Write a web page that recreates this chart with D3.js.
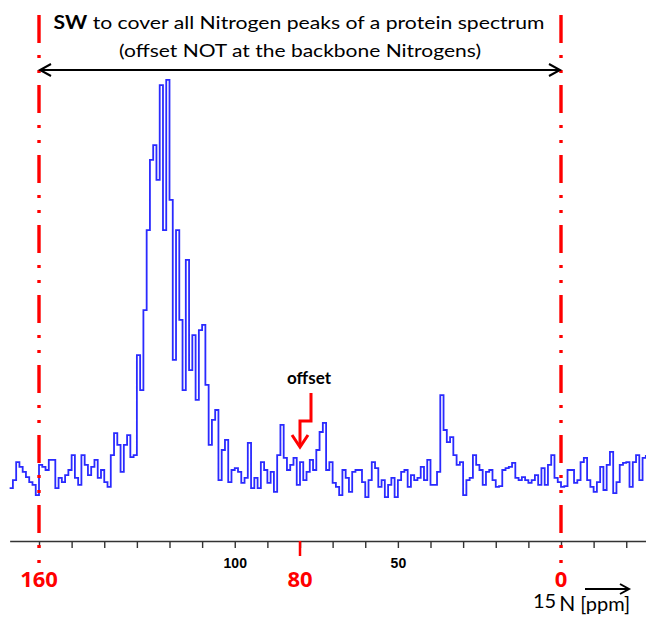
<!DOCTYPE html>
<html>
<head>
<meta charset="utf-8">
<script src="https://cdn.jsdelivr.net/npm/d3@7/dist/d3.min.js"></script>
<style>
  html, body { margin: 0; padding: 0; background: #ffffff; }
  svg { display: block; }
</style>
</head>
<body>
<div id="chart"></div>
<script>
// 15N 1D spectrum: chemical shift (ppm) and relative intensity
const ppm = [169,168,167,166,165,164,163,162,161,160,
  159,158,157,156,155,154,153,152,151,150,
  149,148,147,146,145,144,143,142,141,140,
  139,138,137,136,135,134,133,132,131,130,
  129,128,127,126,125,124,123,122,121,120,
  119,118,117,116,115,114,113,112,111,110,
  109,108,107,106,105,104,103,102,101,100,
  99,98,97,96,95,94,93,92,91,90,
  89,88,87,86,85,84,83,82,81,80,
  79,78,77,76,75,74,73,72,71,70,
  69,68,67,66,65,64,63,62,61,60,
  59,58,57,56,55,54,53,52,51,50,
  49,48,47,46,45,44,43,42,41,40,
  39,38,37,36,35,34,33,32,31,30,
  29,28,27,26,25,24,23,22,21,20,
  19,18,17,16,15,14,13,12,11,10,
  9,8,7,6,5,4,3,2,1,0,
  -1,-2,-3,-4,-5,-6,-7,-8,-9,-10,
  -11,-12,-13,-14,-15,-16,-17,-18,-19,-20,
  -21,-22,-23,-24,-25,-26];

const intensity = [-4.6,-2.6,2.0,0.8,-0.5,-1.8,-3.1,-3.8,-6.4,1.3,
  0.8,0,2.6,2.6,-4.6,-2.0,-3.1,-1.3,0,3.8,
  -2.0,-3.8,3.8,1.3,-1.3,0.8,2.6,-2.0,0,-3.1,
  -4.3,3.8,9.4,6.4,-0.5,6.4,8.9,3.3,3.8,29.3,
  20.4,40.8,61.2,79.1,82.9,74.0,98.2,61.2,99.5,68.9,
  28.1,61.2,38.3,20.4,53.6,25.5,34.4,17.9,35.7,37.0,
  21.7,6.4,12.8,15.3,-2.6,5.1,7.7,-3.1,0,0.5,
  -0.5,-3.3,-2.0,6.9,-4.6,-2.0,-4.6,2.0,0,-3.3,
  -0.5,-5.6,3.8,11.5,3.1,0,1.3,3.1,-3.8,2.0,
  -2.6,-0.5,2.6,0,5.1,9.7,12.0,0,2.0,-3.3,
  -4.3,-6.4,0,-2.0,-5.6,-0.5,0,0,-3.1,-6.9,
  -2.6,2.0,0.5,-4.3,-2.6,-6.9,-3.8,-2.0,-6.9,-2.6,
  -0.5,0,-4.3,-1.3,-2.6,-2.0,0.8,-2.6,2.6,-3.8,
  -3.8,-0.5,19.1,10.2,7.1,8.4,3.8,1.3,2.0,-6.4,
  -2.6,-2.0,3.8,1.3,0,-3.8,-0.5,0,-2.6,-4.3,
  -4.1,0,0.5,0.8,1.8,-2.0,-2.6,-1.8,-2.6,-3.3,
  -2.6,-1.3,-3.8,0.5,-3.8,1.3,3.8,-2.0,-3.1,-4.3,
  -4.1,0,0,-3.3,-2.6,2.0,3.1,-2.6,-4.3,-5.6,
  -3.1,0.8,-5.1,1.3,4.6,-5.9,-3.1,1.3,1.8,2.0,
  -4.3,2.0,3.8,-2.6,3.1,3.8];

// axis ticks (ppm) and which of them carry a black label
const tickValues = [160,150,140,130,120,110,100,90,80,70,60,50,40,30,20,10,0,-10,-20];
const tickLabels = [100, 50];

// spectral window edges and the carrier offset
const swEdges = [160, 0];
const offsetPpm = 80;
const redLabels = [160, 80, 0];

const titleLine1Bold = "SW";
const titleLine1Rest = " to cover all Nitrogen peaks of a protein spectrum";
const titleLine2 = "(offset NOT at the backbone Nitrogens)";

const W = 646, H = 618;
const axisY = 541;

const svg = d3.select("#chart").append("svg")
  .attr("width", W).attr("height", H)
  .style("background", "#fff");

const x = d3.scaleLinear().domain([160, 0]).range([39, 561]);
const y = d3.scaleLinear().domain([0, 100]).range([470, 78]);

// ---- spectrum trace
const pts = ppm.map((p, i) => [p, intensity[i]]);
const line = d3.line()
  .x(d => x(d[0]))
  .y(d => y(d[1]))
  .curve(d3.curveStepAfter);

svg.append("path")
  .datum(pts)
  .attr("d", line)
  .attr("fill", "none")
  .attr("stroke", "#2a2aff")
  .attr("stroke-width", 1.8)
  .attr("stroke-linejoin", "miter");

// ---- ppm axis (extends across the full plotted range)
const xAxisScale = x.copy().domain([ppm[0], ppm[ppm.length - 1]])
  .range([x(ppm[0]), x(ppm[ppm.length - 1])]);

const axis = d3.axisBottom(xAxisScale)
  .tickValues(tickValues)
  .tickSize(7)
  .tickSizeOuter(0)
  .tickPadding(10)
  .tickFormat(d => tickLabels.includes(d) ? d : "");

const gAxis = svg.append("g")
  .attr("transform", `translate(0,${axisY})`)
  .call(axis);

gAxis.select(".domain").attr("stroke", "#333").attr("stroke-width", 1.6);
gAxis.selectAll(".tick line").attr("stroke", "#333").attr("stroke-width", 1.4);
gAxis.selectAll(".tick text")
  .attr("fill", "#000")
  .style("font-family", "'Liberation Sans', Arial, sans-serif")
  .style("font-weight", "bold")
  .style("font-size", "14px");

// red tick at the carrier offset
svg.append("line")
  .attr("x1", x(offsetPpm)).attr("x2", x(offsetPpm))
  .attr("y1", axisY).attr("y2", axisY + 15)
  .attr("stroke", "#ff0000").attr("stroke-width", 2.5);

// ---- spectral window edges (dash-dot)
svg.selectAll("line.sw")
  .data(swEdges)
  .enter().append("line")
  .attr("class", "sw")
  .attr("x1", d => x(d)).attr("x2", d => x(d))
  .attr("y1", 15).attr("y2", 563)
  .attr("stroke", "#ff0000")
  .attr("stroke-width", 3.4)
  .attr("stroke-dasharray", "28,12,3,12,3,12");

// red ppm labels
svg.selectAll("text.red")
  .data(redLabels)
  .enter().append("text")
  .attr("class", "red")
  .attr("x", d => x(d))
  .attr("y", 587)
  .attr("text-anchor", "middle")
  .attr("fill", "#ff0000")
  .style("font-family", "'Open Sans', sans-serif")
  .style("font-weight", "bold")
  .style("font-size", "22px")
  .text(d => d);

// ---- SW double-headed arrow
const arrowY = 70;
const xa = x(swEdges[0]), xb = x(swEdges[1]);
svg.append("line")
  .attr("x1", xa + 1).attr("x2", xb - 1)
  .attr("y1", arrowY).attr("y2", arrowY)
  .attr("stroke", "#000").attr("stroke-width", 2);
svg.append("path")
  .attr("d", `M${xa + 12},${arrowY - 6}L${xa + 1},${arrowY}L${xa + 12},${arrowY + 6}` +
             `M${xb - 12},${arrowY - 6}L${xb - 1},${arrowY}L${xb - 12},${arrowY + 6}`)
  .attr("fill", "none").attr("stroke", "#000").attr("stroke-width", 2);

// ---- title
const t1 = svg.append("text")
  .attr("x", 299).attr("y", 29)
  .attr("text-anchor", "middle")
  .style("font-family", "Lato, sans-serif")
  .style("font-size", "18px")
  .attr("fill", "#000")
  .attr("textLength", 491)
  .attr("lengthAdjust", "spacingAndGlyphs");
t1.append("tspan").style("font-weight", "bold").text(titleLine1Bold);
t1.append("tspan").text(titleLine1Rest);

svg.append("text")
  .attr("x", 300).attr("y", 57)
  .attr("text-anchor", "middle")
  .style("font-family", "Lato, sans-serif")
  .style("font-size", "18px")
  .attr("fill", "#000")
  .attr("textLength", 362)
  .attr("lengthAdjust", "spacingAndGlyphs")
  .text(titleLine2);

// ---- offset annotation
const xo = x(offsetPpm);
svg.append("text")
  .attr("x", xo + 9).attr("y", 384)
  .attr("text-anchor", "middle")
  .style("font-family", "Lato, sans-serif")
  .style("font-weight", "bold")
  .style("font-size", "17px")
  .attr("fill", "#000")
  .text("offset");

svg.append("path")
  .attr("d", `M${xo + 11},393V421H${xo}V445`)
  .attr("fill", "none").attr("stroke", "#ff0000").attr("stroke-width", 3);
svg.append("path")
  .attr("d", `M${xo - 8},435L${xo},447L${xo + 8},435`)
  .attr("fill", "none").attr("stroke", "#ff0000").attr("stroke-width", 3);

// ---- unit label with arrow
svg.append("line")
  .attr("x1", 585).attr("x2", 628).attr("y1", 589).attr("y2", 589)
  .attr("stroke", "#000").attr("stroke-width", 2);
svg.append("path")
  .attr("d", "M620,584L629,589L620,594")
  .attr("fill", "none").attr("stroke", "#000").attr("stroke-width", 2);

const unit = svg.append("text")
  .attr("x", 533).attr("y", 611)
  .style("font-family", "Lato, sans-serif")
  .attr("fill", "#000");
unit.append("tspan").style("font-size", "20px").attr("dy", -3).text("15");
unit.append("tspan").style("font-size", "21px").attr("dy", 3).attr("dx", 3).text("N");
unit.append("tspan").style("font-size", "20px").attr("dx", 5).text("[ppm]");
</script>
</body>
</html>
